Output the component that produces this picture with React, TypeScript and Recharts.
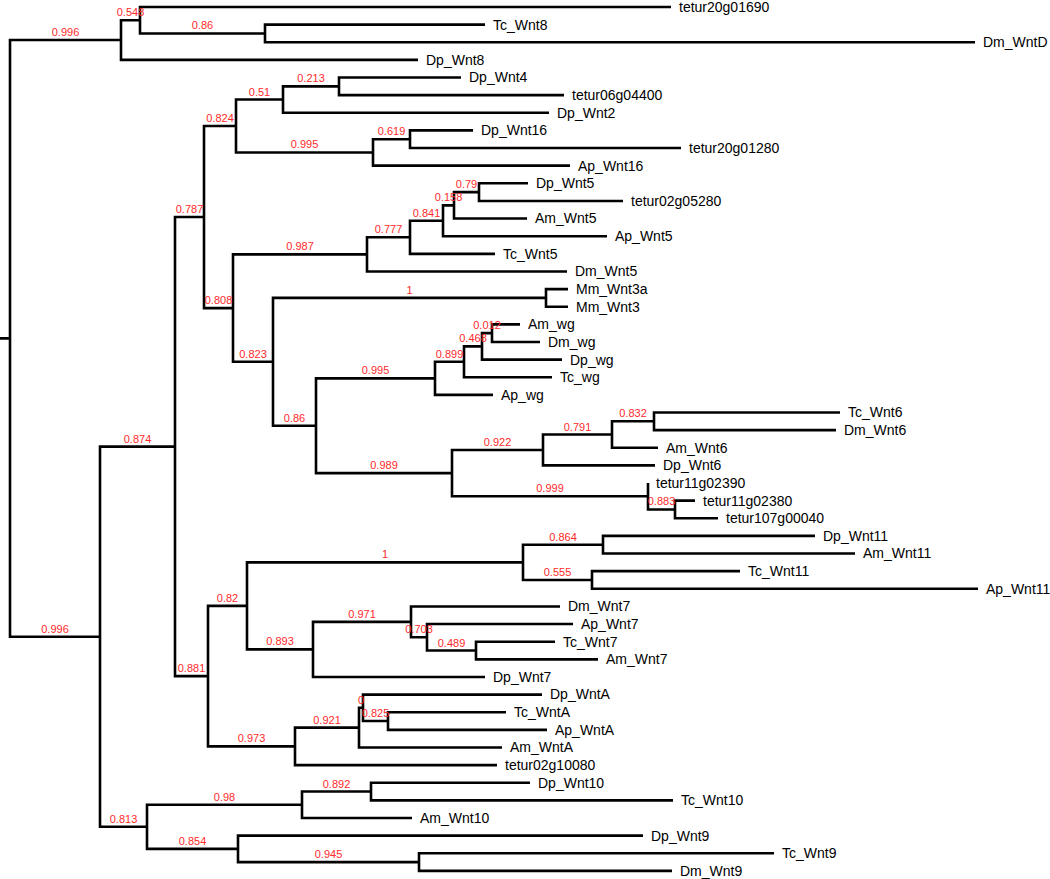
import { ComposedChart, Line, Scatter, XAxis, YAxis } from 'recharts';

// leaves, top to bottom, with their tip depth (cumulative branch length)
const leafNames = [
  'tetur20g01690', 'Tc_Wnt8', 'Dm_WntD', 'Dp_Wnt8', 'Dp_Wnt4', 'tetur06g04400', 'Dp_Wnt2',
  'Dp_Wnt16', 'tetur20g01280', 'Ap_Wnt16', 'Dp_Wnt5', 'tetur02g05280', 'Am_Wnt5', 'Ap_Wnt5',
  'Tc_Wnt5', 'Dm_Wnt5', 'Mm_Wnt3a', 'Mm_Wnt3', 'Am_wg', 'Dm_wg', 'Dp_wg', 'Tc_wg', 'Ap_wg',
  'Tc_Wnt6', 'Dm_Wnt6', 'Am_Wnt6', 'Dp_Wnt6', 'tetur11g02390', 'tetur11g02380', 'tetur107g00040',
  'Dp_Wnt11', 'Am_Wnt11', 'Tc_Wnt11', 'Ap_Wnt11', 'Dm_Wnt7', 'Ap_Wnt7', 'Tc_Wnt7', 'Am_Wnt7',
  'Dp_Wnt7', 'Dp_WntA', 'Tc_WntA', 'Ap_WntA', 'Am_WntA', 'tetur02g10080', 'Dp_Wnt10', 'Tc_Wnt10',
  'Am_Wnt10', 'Dp_Wnt9', 'Tc_Wnt9', 'Dm_Wnt9',
];
const leafDepth = [
  0.661, 0.475, 0.965, 0.408, 0.451, 0.554, 0.539,
  0.463, 0.671, 0.560, 0.518, 0.613, 0.517, 0.597,
  0.485, 0.557, 0.558, 0.558, 0.510, 0.530, 0.552, 0.542, 0.483,
  0.830, 0.826, 0.648, 0.645, 0.638, 0.685, 0.708,
  0.805, 0.845, 0.730, 0.968, 0.550, 0.563, 0.545, 0.588,
  0.475, 0.532, 0.496, 0.537, 0.492, 0.487, 0.520, 0.663,
  0.402, 0.633, 0.764, 0.662,
];

// internal nodes
const nodeIds = [
  'root', 'top', 'n548', 'n86a', 'bot', 'n874', 'n787', 'n824', 'n51', 'n213', 'n995a', 'n619',
  'n808', 'n987', 'n777', 'n841', 'n158', 'n79', 'n823', 'n1a', 'n86b', 'n995b', 'n899', 'n468',
  'n012', 'n989', 'n922', 'n791', 'n832', 'n999', 'n883', 'n881', 'n82', 'n1b', 'n864', 'n555',
  'n893', 'n971', 'n703', 'n489', 'n973', 'n921', 'n0', 'n825', 'n813', 'n98', 'n892', 'n854', 'n945',
];
const nodeDepth = [
  0.000, 0.111, 0.130, 0.255, 0.090, 0.165, 0.194, 0.226, 0.273, 0.329, 0.363, 0.400,
  0.223, 0.357, 0.400, 0.433, 0.444, 0.469, 0.263, 0.536, 0.306, 0.425, 0.454, 0.472,
  0.482, 0.442, 0.533, 0.602, 0.644, 0.638, 0.665, 0.198, 0.237, 0.513, 0.593, 0.582,
  0.303, 0.401, 0.417, 0.466, 0.285, 0.349, 0.353, 0.378, 0.137, 0.292, 0.361, 0.228, 0.409,
];
const nodeKids = [
  ['top', 'bot'], ['n548', 'Dp_Wnt8'], ['tetur20g01690', 'n86a'], ['Tc_Wnt8', 'Dm_WntD'],
  ['n874', 'n813'], ['n787', 'n881'], ['n824', 'n808'], ['n51', 'n995a'], ['n213', 'Dp_Wnt2'],
  ['Dp_Wnt4', 'tetur06g04400'], ['n619', 'Ap_Wnt16'], ['Dp_Wnt16', 'tetur20g01280'],
  ['n987', 'n823'], ['n777', 'Dm_Wnt5'], ['n841', 'Tc_Wnt5'], ['n158', 'Ap_Wnt5'],
  ['n79', 'Am_Wnt5'], ['Dp_Wnt5', 'tetur02g05280'], ['n1a', 'n86b'], ['Mm_Wnt3a', 'Mm_Wnt3'],
  ['n995b', 'n989'], ['n899', 'Ap_wg'], ['n468', 'Tc_wg'], ['n012', 'Dp_wg'], ['Am_wg', 'Dm_wg'],
  ['n922', 'n999'], ['n791', 'Dp_Wnt6'], ['n832', 'Am_Wnt6'], ['Tc_Wnt6', 'Dm_Wnt6'],
  ['tetur11g02390', 'n883'], ['tetur11g02380', 'tetur107g00040'], ['n82', 'n973'],
  ['n1b', 'n893'], ['n864', 'n555'], ['Dp_Wnt11', 'Am_Wnt11'], ['Tc_Wnt11', 'Ap_Wnt11'],
  ['n971', 'Dp_Wnt7'], ['Dm_Wnt7', 'n703'], ['Ap_Wnt7', 'n489'], ['Tc_Wnt7', 'Am_Wnt7'],
  ['n921', 'tetur02g10080'], ['n0', 'Am_WntA'], ['Dp_WntA', 'n825'], ['Tc_WntA', 'Ap_WntA'],
  ['n98', 'n854'], ['n892', 'Am_Wnt10'], ['Dp_Wnt10', 'Tc_Wnt10'], ['Dp_Wnt9', 'n945'],
  ['Tc_Wnt9', 'Dm_Wnt9'],
];
const nodeSupport = [
  '', '0.996', '0.548', '0.86', '0.996', '0.874', '0.787', '0.824', '0.51', '0.213', '0.995', '0.619',
  '0.808', '0.987', '0.777', '0.841', '0.158', '0.79', '0.823', '1', '0.86', '0.995', '0.899', '0.468',
  '0.012', '0.989', '0.922', '0.791', '0.832', '0.999', '0.883', '0.881', '0.82', '1', '0.864', '0.555',
  '0.893', '0.971', '0.703', '0.489', '0.973', '0.921', '0', '0.825', '0.813', '0.98', '0.892', '0.854', '0.945',
];
const rootEdge = 0.01;

// ---- build the tree geometry (in data units) ----
const depthOf: Record<string, number> = {};
const rowOf: Record<string, number> = {};
const parentOf: Record<string, string> = {};
const kidsOf: Record<string, string[]> = {};
leafNames.forEach((n, i) => { depthOf[n] = leafDepth[i]; rowOf[n] = i; });
nodeIds.forEach((id, i) => {
  depthOf[id] = nodeDepth[i];
  kidsOf[id] = nodeKids[i];
  nodeKids[i].forEach((k) => { parentOf[k] = id; });
});
const rowFor = (id: string): number => {
  if (rowOf[id] !== undefined) return rowOf[id];
  const [a, b] = kidsOf[id];
  rowOf[id] = (rowFor(a) + rowFor(b)) / 2;
  return rowOf[id];
};

const treePoints: { x: number; y: number | null }[] = [
  { x: depthOf.root - rootEdge, y: rowFor('root') },
  { x: depthOf.root, y: rowFor('root') },
  { x: depthOf.root, y: null },
];
nodeIds.forEach((id) => {
  const [a, b] = kidsOf[id];
  treePoints.push(
    { x: depthOf[a], y: rowFor(a) },
    { x: depthOf[id], y: rowFor(a) },
    { x: depthOf[id], y: rowFor(b) },
    { x: depthOf[b], y: rowFor(b) },
    { x: depthOf[b], y: null },
  );
});

const leafPoints = leafNames.map((name, i) => ({ x: leafDepth[i], y: i, name }));
const supportPoints = nodeIds
  .map((id, i) => ({ id, label: nodeSupport[i] }))
  .filter((d) => parentOf[d.id])
  .map((d) => ({
    x: (depthOf[parentOf[d.id]] + depthOf[d.id]) / 2,
    y: rowFor(d.id),
    label: d.label,
  }));

const font = '"Liberation Sans", Arial, Helvetica, sans-serif';

const LeafLabel = (props: any) => (
  <text x={props.cx + 8} y={props.cy} dy="0.35em" fontSize={14} fontFamily={font} fill="#000">
    {props.payload.name}
  </text>
);

const SupportLabel = (props: any) => (
  <text x={props.cx} y={props.cy - 4} textAnchor="middle" fontSize={11} fontFamily={font} fill="#ff2a2a">
    {props.payload.label}
  </text>
);

export default function App() {
  return (
    <div style={{ position: 'absolute', left: 0, top: 0, background: '#fff' }}>
      <ComposedChart width={1050} height={879} margin={{ top: 0, right: 0, bottom: 0, left: 0 }}>
        <XAxis type="number" dataKey="x" domain={[-0.01, 1.04]} hide allowDataOverflow />
        <YAxis type="number" dataKey="y" domain={[-0.397, 49.46]} reversed hide allowDataOverflow />
        <Line
          data={treePoints}
          dataKey="y"
          type="linear"
          stroke="#000"
          strokeWidth={2.6}
          strokeLinejoin="miter"
          dot={false}
          activeDot={false}
          connectNulls={false}
          isAnimationActive={false}
        />
        <Scatter data={leafPoints} shape={LeafLabel} isAnimationActive={false} />
        <Scatter data={supportPoints} shape={SupportLabel} isAnimationActive={false} />
      </ComposedChart>
    </div>
  );
}
